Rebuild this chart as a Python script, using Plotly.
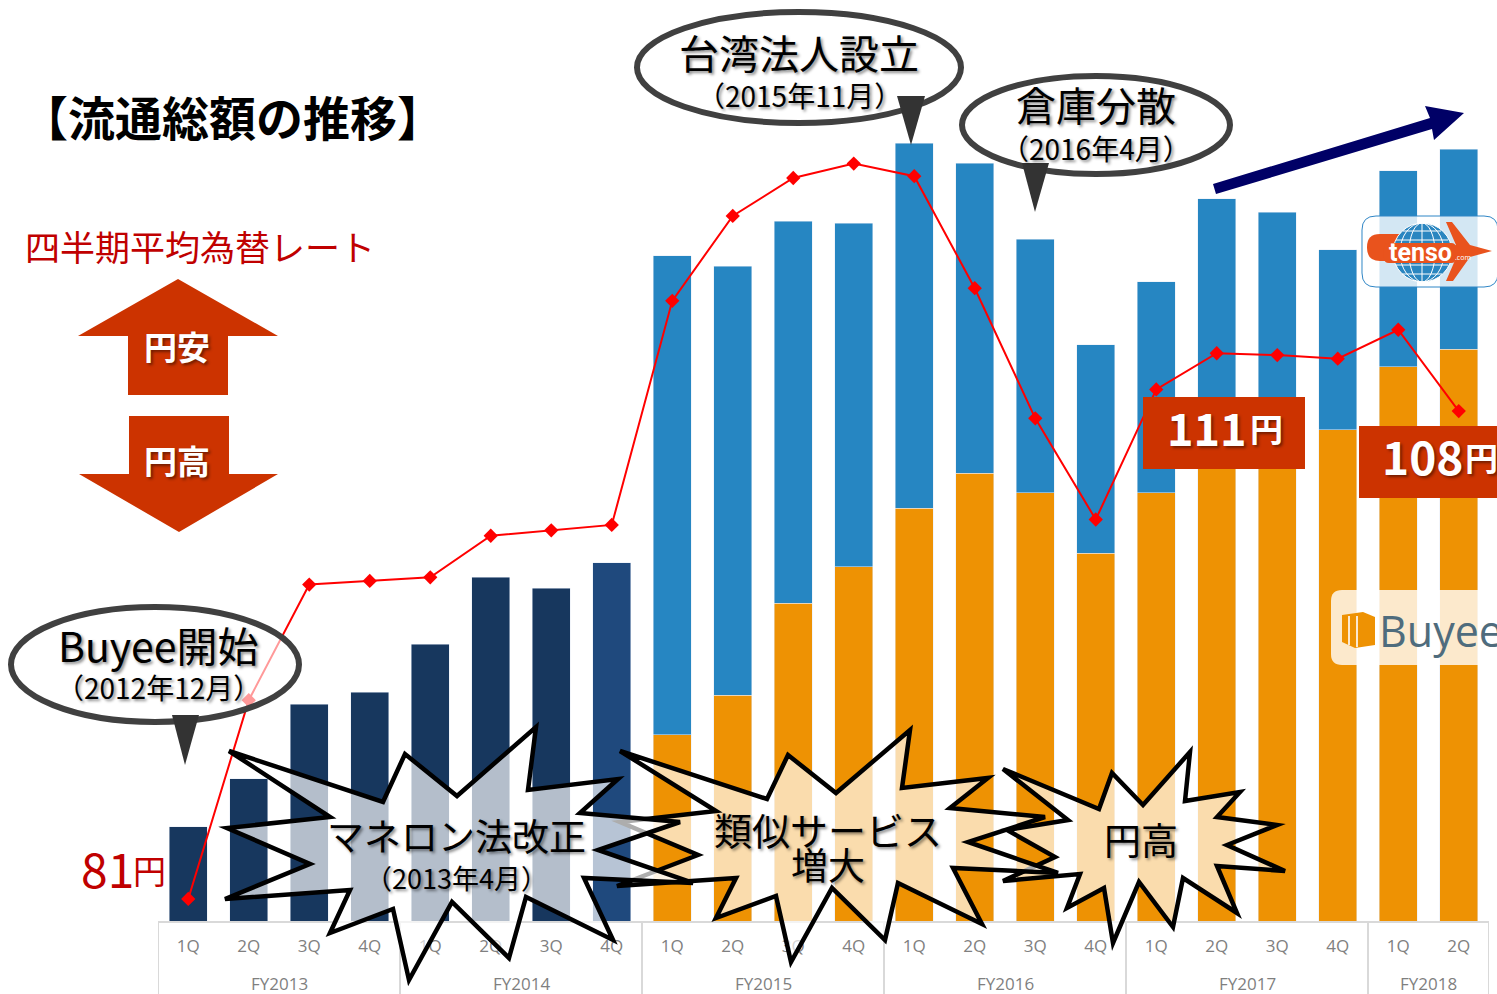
import plotly.graph_objects as go

# ---------- data ----------
quarters = ["1Q","2Q","3Q","4Q","1Q","2Q","3Q","4Q","1Q","2Q","3Q","4Q","1Q","2Q","3Q","4Q","1Q","2Q","3Q","4Q","1Q","2Q"]
fiscal_years = ["FY2013","FY2014","FY2015","FY2016","FY2017","FY2018"]
fy_centres = [1.5, 5.5, 9.5, 13.5, 17.5, 20.5]
fy_dividers = [-0.5, 3.5, 7.5, 11.5, 15.5, 19.5, 21.5]
navy_total = [1158,1749,2672,2820,3411,4236,4101,4409] + [None]*14
orange_buyee = [None]*8 + [2291,2783,3916,4360,5086,5517,5271,4532,5271,5862,5800,6047,6823,7044]
blue_tenso = [None]*8 + [5899,5283,4704,4236,4495,3818,3128,2562,2599,3030,2931,2217,2414,2463]
fx_rate = [81.0,92.0,98.4,98.6,98.8,101.1,101.4,101.7,114.1,118.8,120.9,121.7,121.0,114.8,107.6,102.0,109.2,111.2,111.1,110.9,112.5,108.0]

NAVY = ["#17375e"]*7 + ["#1f497d"] + ["#17375e"]*14
BLUE, ORANGE, RED, DARKRED, BRICK = "#2686c2", "#ee9203", "#ff0000", "#c00000", "#cc3300"
FONT = "Noto Sans CJK JP"
W, H = 1497, 994
L, R, B = 158, 1489, 921
xs = list(range(len(quarters)))

def px(x): return (x - L) / (R - L)
def py(y): return (B - y) / B
def poly(pts):
    return "M" + " L".join(f"{px(x):.5f},{py(y):.5f}" for x, y in pts) + " Z"
def rrect(x0, y0, x1, y1, r):
    p = lambda x, y: f"{px(x):.5f},{py(y):.5f}"
    return (f"M{p(x0+r,y0)} L{p(x1-r,y0)} Q{p(x1,y0)} {p(x1,y0+r)} L{p(x1,y1-r)} Q{p(x1,y1)} {p(x1-r,y1)} "
            f"L{p(x0+r,y1)} Q{p(x0,y1)} {p(x0,y1-r)} L{p(x0,y0+r)} Q{p(x0,y0)} {p(x0+r,y0)} Z")

fig = go.Figure()
fig.add_bar(x=xs, y=navy_total, marker_color=NAVY, name="流通総額")
fig.add_bar(x=xs, y=orange_buyee, marker_color=ORANGE, name="Buyee")
fig.add_bar(x=xs, y=blue_tenso, marker_color=BLUE, name="tenso")
fig.add_scatter(x=xs, y=fx_rate, yaxis="y2", mode="lines+markers", name="四半期平均為替レート",
                line=dict(color=RED, width=2), marker=dict(symbol="diamond", size=11, color=RED))

shapes = []
def add_path(path, fill, line=None, width=0):
    shapes.append(dict(type="path", xref="paper", yref="paper", path=path, fillcolor=fill,
                       line=dict(color=line or "rgba(0,0,0,0)", width=width), layer="above"))
def add_oval(x0, y0, x1, y1, fill, line, width):
    shapes.append(dict(type="circle", xref="paper", yref="paper", x0=px(x0), x1=px(x1), y0=py(y1), y1=py(y0),
                       fillcolor=fill, line=dict(color=line, width=width), layer="above"))
def add_line(x0, y0, x1, y1, color, width):
    shapes.append(dict(type="line", xref="paper", yref="paper", x0=px(x0), x1=px(x1), y0=py(y0), y1=py(y1),
                       line=dict(color=color, width=width), layer="above"))

# fiscal-year dividers under the axis
for d in fy_dividers:
    shapes.append(dict(type="line", xref="x", yref="paper", x0=d, x1=d, y0=0, y1=-(H - B) / B,
                       line=dict(color="#d9d9d9", width=2), layer="above"))

# logo panels
add_path(rrect(1362, 216, 1498, 287, 14), "rgba(255,255,255,0.8)", "#2f86c6", 1)
add_path(rrect(1331, 590, 1510, 665, 11), "rgba(255,255,255,0.8)")
# tenso logo
add_path(rrect(1367, 234, 1420, 261, 13), "#e9531d")
add_oval(1393, 223, 1452, 282, "#2a86c0", "#ffffff", 1)
add_oval(1409, 223, 1435, 282, "rgba(0,0,0,0)", "#ffffff", 1)
add_oval(1400, 223, 1444, 282, "rgba(0,0,0,0)", "#ffffff", 1)
add_line(1422, 223, 1422, 282, "#ffffff", 1)
add_line(1403, 231, 1441, 231, "#ffffff", 1)
add_line(1396, 240, 1448, 240, "#ffffff", 1)
add_line(1396, 265, 1448, 265, "#ffffff", 1)
add_line(1402, 274, 1442, 274, "#ffffff", 1)
add_path(rrect(1384, 243, 1456, 263, 5), "#e9531d")
add_path(poly([(1446,222),(1452,222),(1470,245),(1492,251),(1470,257),(1453,281),(1446,281),(1456,258),(1452,258),(1452,246),(1456,245)]), "#e9531d")
# buyee icon
add_path(poly([(1342,615),(1363,612),(1375,617),(1375,645),(1355,648),(1342,642)]), ORANGE)
add_line(1349, 616, 1349, 645, "#fbe8d0", 2)
add_line(1357, 616, 1357, 647, "#fbe8d0", 2)

# up-trend arrow
add_path(poly([(1213,184),(1430,118),(1425,106),(1464,113),(1434,140),(1432,129),(1216,194)]), "#000066")

# yen-direction arrows
add_path(poly([(178,279),(278,336),(228,336),(228,395),(128,395),(128,336),(78,336)]), BRICK)
add_path(poly([(129,416),(229,416),(229,474),(278,474),(179,532),(79,474),(129,474)]), BRICK)

# price boxes
add_path(poly([(1143,397),(1305,397),(1305,469),(1143,469)]), BRICK)
add_path(poly([(1359,426),(1500,426),(1500,498),(1359,498)]), BRICK)

# bursts (back to front)
FILL = "rgba(255,255,255,0.68)"
burst3 = [(1003,769),(1099,809),(1112,773),(1143,805),(1190,752),(1185,801),(1240,792),(1217,817),(1277,825),(1227,845),
          (1285,871),(1217,866),(1237,913),(1183,878),(1173,927),(1139,882),(1113,943),(1104,888),(1067,908),(1080,874),
          (1003,881),(1055,857),(1007,830),(1068,820)]
burst2 = [(620,751),(767,799),(788,755),(836,793),(910,730),(902,788),(988,778),(950,808),(1045,817),(968,842),
          (1058,873),(953,868),(982,924),(898,883),(885,940),(832,888),(791,962),(776,896),(716,918),(736,878),
          (617,886),(698,855),(620,822),(716,811)]
burst1 = [(229,751),(383,802),(405,754),(457,796),(536,727),(528,790),(618,779),(580,813),(680,822),(598,850),
          (693,883),(584,878),(613,940),(526,897),(509,958),(452,902),(409,980),(393,909),(330,933),(350,890),
          (225,899),(310,864),(227,828),(330,817)]
for b in (burst3, burst2, burst1):
    add_path(poly(b), FILL, "#000000", 4.5)

# callouts
OVAL_FILL = "rgba(255,255,255,0.6)"
add_oval(11, 607, 299, 722, OVAL_FILL, "#404040", 6)
add_oval(637, 12, 961, 123, OVAL_FILL, "#404040", 6)
add_oval(962, 76, 1230, 174, OVAL_FILL, "#404040", 6)
add_path(poly([(172,715),(199,715),(185,765)]), "#333333")
add_path(poly([(897,96),(925,96),(911,145)]), "#333333")
add_path(poly([(1022,163),(1049,163),(1035,212)]), "#333333")

SHADOW = "2px 2px 3px rgba(0,0,0,0.45)"
def label(text, x, y, size, color="#000000", weight=400, shadow=None, family=FONT, anchor="center"):
    f = dict(family=family, size=size, color=color, weight=weight)
    if shadow:
        f["shadow"] = shadow
    fig.add_annotation(text=text, x=px(x), y=py(y - 3), xref="paper", yref="paper", showarrow=False,
                       xanchor=anchor, yanchor="middle", font=f, borderpad=0, borderwidth=0)

for name, c in zip(fiscal_years, fy_centres):
    fig.add_annotation(text=name, x=c, y=py(983), xref="x", yref="paper", showarrow=False, yanchor="middle",
                       font=dict(family="Open Sans", size=17, color="#7f7f7f"))

label("【流通総額の推移】", 232, 118, 47, weight=700)
label("四半期平均為替レート", 200, 248, 35, color=DARKRED)
label("円安", 177, 349, 33, color="#ffffff", weight=700, shadow=SHADOW)
label("円高", 177, 463, 33, color="#ffffff", weight=700, shadow=SHADOW)
label("81", 107, 870, 48, color=DARKRED)
label("円", 149, 873, 33, color=DARKRED)
label("111", 1207, 429, 45, color="#ffffff", weight=700, shadow=SHADOW)
label("円", 1266, 431, 33, color="#ffffff", weight=700, shadow=SHADOW)
label("108", 1422, 458, 46, color="#ffffff", weight=700, shadow=SHADOW)
label("円", 1481, 460, 33, color="#ffffff", weight=700, shadow=SHADOW)

label("Buyee開始", 158, 647, 41, shadow=SHADOW)
label("（2012年12月）", 158, 690, 28, shadow=SHADOW)
label("台湾法人設立", 799, 55, 40, shadow=SHADOW)
label("（2015年11月）", 799, 98, 28, shadow=SHADOW)
label("倉庫分散", 1096, 107, 40, shadow=SHADOW)
label("（2016年4月）", 1096, 151, 28, shadow=SHADOW)
label("マネロン法改正", 456, 838, 37, shadow=SHADOW)
label("（2013年4月）", 456, 880, 27, shadow=SHADOW)
label("類似サービス", 828, 831, 38, shadow=SHADOW)
label("増大", 828, 867, 37, shadow=SHADOW)
label("円高", 1141, 842, 37, shadow=SHADOW)

label("tenso", 1420, 255, 25, color="#ffffff", weight=700, family="Roboto")
label(".com", 1463, 260, 7, color="#ffffff", family="Open Sans")
label("Buyee", 1379, 633, 43, color="#4f6c7d", family="Open Sans", anchor="left")

fig.update_layout(
    width=W, height=H, autosize=False, showlegend=False, barmode="stack", bargap=0.37,
    paper_bgcolor="#ffffff", plot_bgcolor="#ffffff",
    margin=dict(l=L, r=W - R, t=0, b=H - B, pad=0),
    font=dict(family=FONT), shapes=shapes,
    xaxis=dict(range=[-0.5, 21.5], tickmode="array", tickvals=xs, ticktext=quarters, showgrid=False, zeroline=False,
               showline=True, linecolor="#d9d9d9", linewidth=2, ticks="", ticklabelstandoff=9,
               tickfont=dict(family="Open Sans", size=17, color="#808080"), tickangle=0, automargin=False),
    yaxis=dict(range=[0, B / 81.2 * 1000], showticklabels=False, showgrid=False, zeroline=False, ticks="", automargin=False),
    yaxis2=dict(range=[79.78, 130.75], overlaying="y", side="right", showgrid=False, zeroline=False, showticklabels=False, ticks=""),
)

fig.write_html("out.html", config=dict(displayModeBar=False),
               post_script="document.body.style.margin='0';document.body.style.overflow='hidden';")
